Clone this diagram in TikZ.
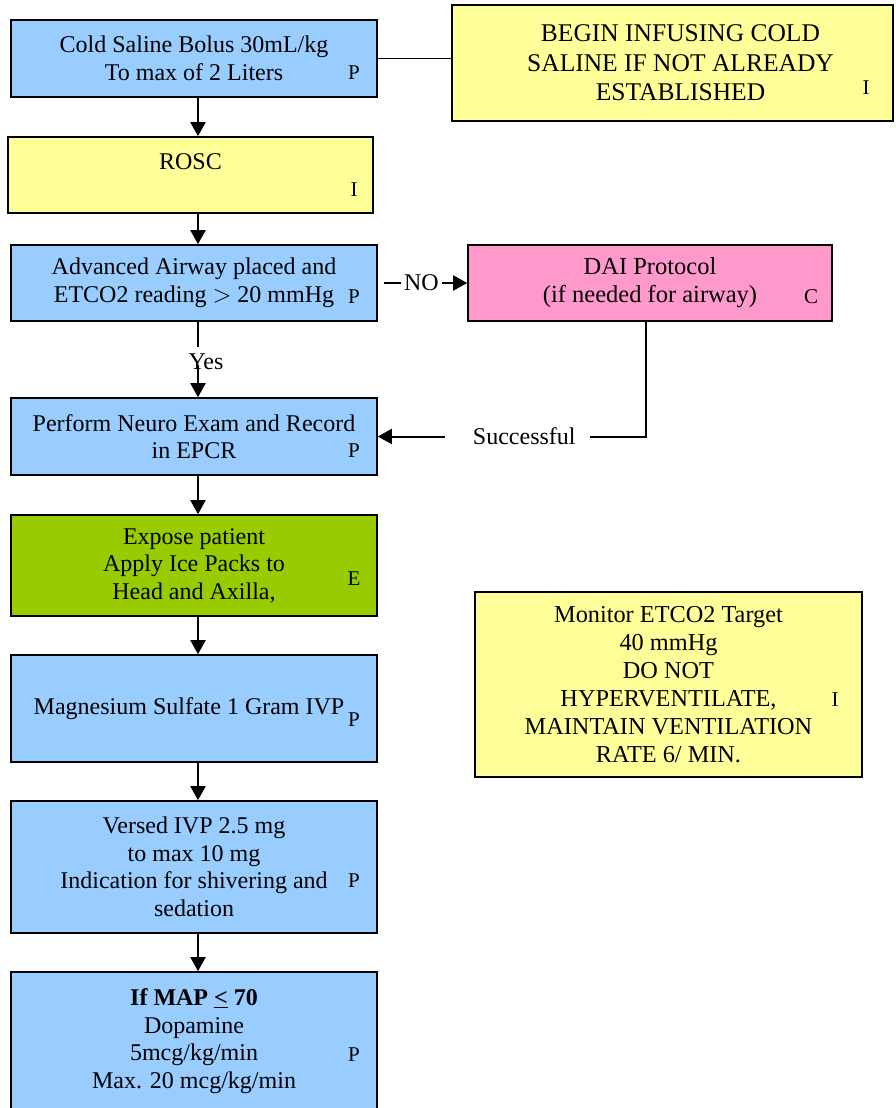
\documentclass[tikz,border=0pt]{standalone}
\usepackage{fontspec}
\setmainfont{Liberation Serif}
\usetikzlibrary{arrows.meta}
\definecolor{stepblue}{HTML}{99CCFF}
\definecolor{noteyellow}{HTML}{FFFF99}
\definecolor{protopink}{HTML}{FF99CC}
\definecolor{coolgreen}{HTML}{99CC00}
\begin{document}
\begin{tikzpicture}[x=1pt,y=-1pt,
  box/.style={draw=black, line width=1.6pt, rectangle, inner sep=0pt, align=center,
              font=\fontsize{24}{27.5}\selectfont},
  tag/.style={inner sep=0pt, font=\fontsize{21}{24}\selectfont},
  lbl/.style={inner sep=0pt, font=\fontsize{24}{27.5}\selectfont},
  arr/.style={line width=2pt, -{Triangle[length=14pt,width=15pt]}},
  link/.style={line width=1.6pt}]
\clip (0,0) rectangle (896,1108);
\fill[white] (0,0) rectangle (896,1108);
\coordinate (spine) at (198,0);

% main column
\node[box, fill=stepblue, minimum width=366pt, minimum height=77pt] (saline) at (194,58.5)
  {Cold Saline Bolus 30mL/kg\\To max of 2 Liters};
\node[box, fill=noteyellow, minimum width=365pt, minimum height=76pt] (rosc) at (190.5,175)
  {ROSC\\\mbox{}};
\node[box, fill=stepblue, minimum width=366pt, minimum height=76pt] (airway) at (194,283)
  {Advanced Airway placed and\\ETCO2 reading $>$ 20 mmHg};
\node[box, fill=stepblue, minimum width=366pt, minimum height=77pt] (neuro) at (194,436.5)
  {Perform Neuro Exam and Record\\in EPCR};
\node[box, fill=coolgreen, minimum width=366pt, minimum height=101pt] (expose) at (194,565.5)
  {Expose patient\\Apply Ice Packs to\\Head and Axilla,};
\node[box, fill=stepblue, minimum width=366pt, minimum height=107pt] (magnesium) at (194,708.5)
  {Magnesium Sulfate 1 Gram IVP\hspace*{10pt}};
\node[box, fill=stepblue, minimum width=366pt, minimum height=132pt] (versed) at (194,867)
  {Versed IVP 2.5 mg\\to max 10 mg\\Indication for shivering and\\sedation};
\node[box, fill=stepblue, minimum width=366pt, minimum height=138pt] (dopamine) at (194,1041)
  {\textbf{If MAP \underline{<} 70}\\Dopamine\\5mcg/kg/min\\Max. 20 mcg/kg/min};

% side boxes
\node[box, fill=noteyellow, minimum width=441pt, minimum height=116pt,
      font=\fontsize{25.5}{29.5}\selectfont] (begin) at (672.5,63)
  {\hspace*{16pt}BEGIN INFUSING COLD\\\hspace*{16pt}SALINE IF NOT ALREADY\\\hspace*{16pt}ESTABLISHED};
\node[box, fill=protopink, minimum width=364pt, minimum height=76pt,
      font=\fontsize{24.5}{28}\selectfont] (dai) at (650,283)
  {DAI Protocol\\(if needed for airway)};
\node[box, fill=noteyellow, minimum width=387pt, minimum height=185pt,
      font=\fontsize{24.3}{28}\selectfont] (monitor) at (668.5,684.5)
  {Monitor ETCO2 Target\\40 mmHg\\DO NOT\\HYPERVENTILATE,\\MAINTAIN VENTILATION\\RATE 6/ MIN.};

% level tags
\node[tag] (saline-tag) at (354,73) {P};
\node[tag] (rosc-tag) at (354,190) {I};
\node[tag] (airway-tag) at (354,297) {P};
\node[tag] (neuro-tag) at (354,451) {P};
\node[tag] (expose-tag) at (354,579) {E};
\node[tag] (magnesium-tag) at (354,720) {P};
\node[tag] (versed-tag) at (354,881) {P};
\node[tag] (dopamine-tag) at (354,1055) {P};
\node[tag] (begin-tag) at (866,88) {I};
\node[tag] (dai-tag) at (811,297) {C};
\node[tag] (monitor-tag) at (835,700) {I};

% connectors
\draw[link] (saline.east) -- (saline.east -| begin.west);
\draw[arr] (saline.south -| spine) -- (rosc.north -| spine);
\draw[arr] (rosc.south -| spine) -- (airway.north -| spine);
\node[lbl] (yes) at (206,362) {Yes};
\draw[line width=2pt, shorten >=7pt] (airway.south -| spine) -- (yes.north -| spine);
\draw[arr] ([yshift=-3pt]yes.center -| spine) -- (neuro.north -| spine);
\draw[arr] ([xshift=6pt]airway.east) -- node[lbl, fill=white, pos=0.45, inner xsep=3pt] (no) {NO} (dai.west);
\draw[arr] ([xshift=-4pt]dai.south) |- node[lbl, fill=white, pos=0.74, inner xsep=14pt, inner ysep=4pt] (ok) {\hspace*{14pt}Successful} (neuro.east);
\draw[arr] (neuro.south -| spine) -- (expose.north -| spine);
\draw[arr] (expose.south -| spine) -- (magnesium.north -| spine);
\draw[arr] (magnesium.south -| spine) -- (versed.north -| spine);
\draw[arr] (versed.south -| spine) -- (dopamine.north -| spine);
\end{tikzpicture}
\end{document}
